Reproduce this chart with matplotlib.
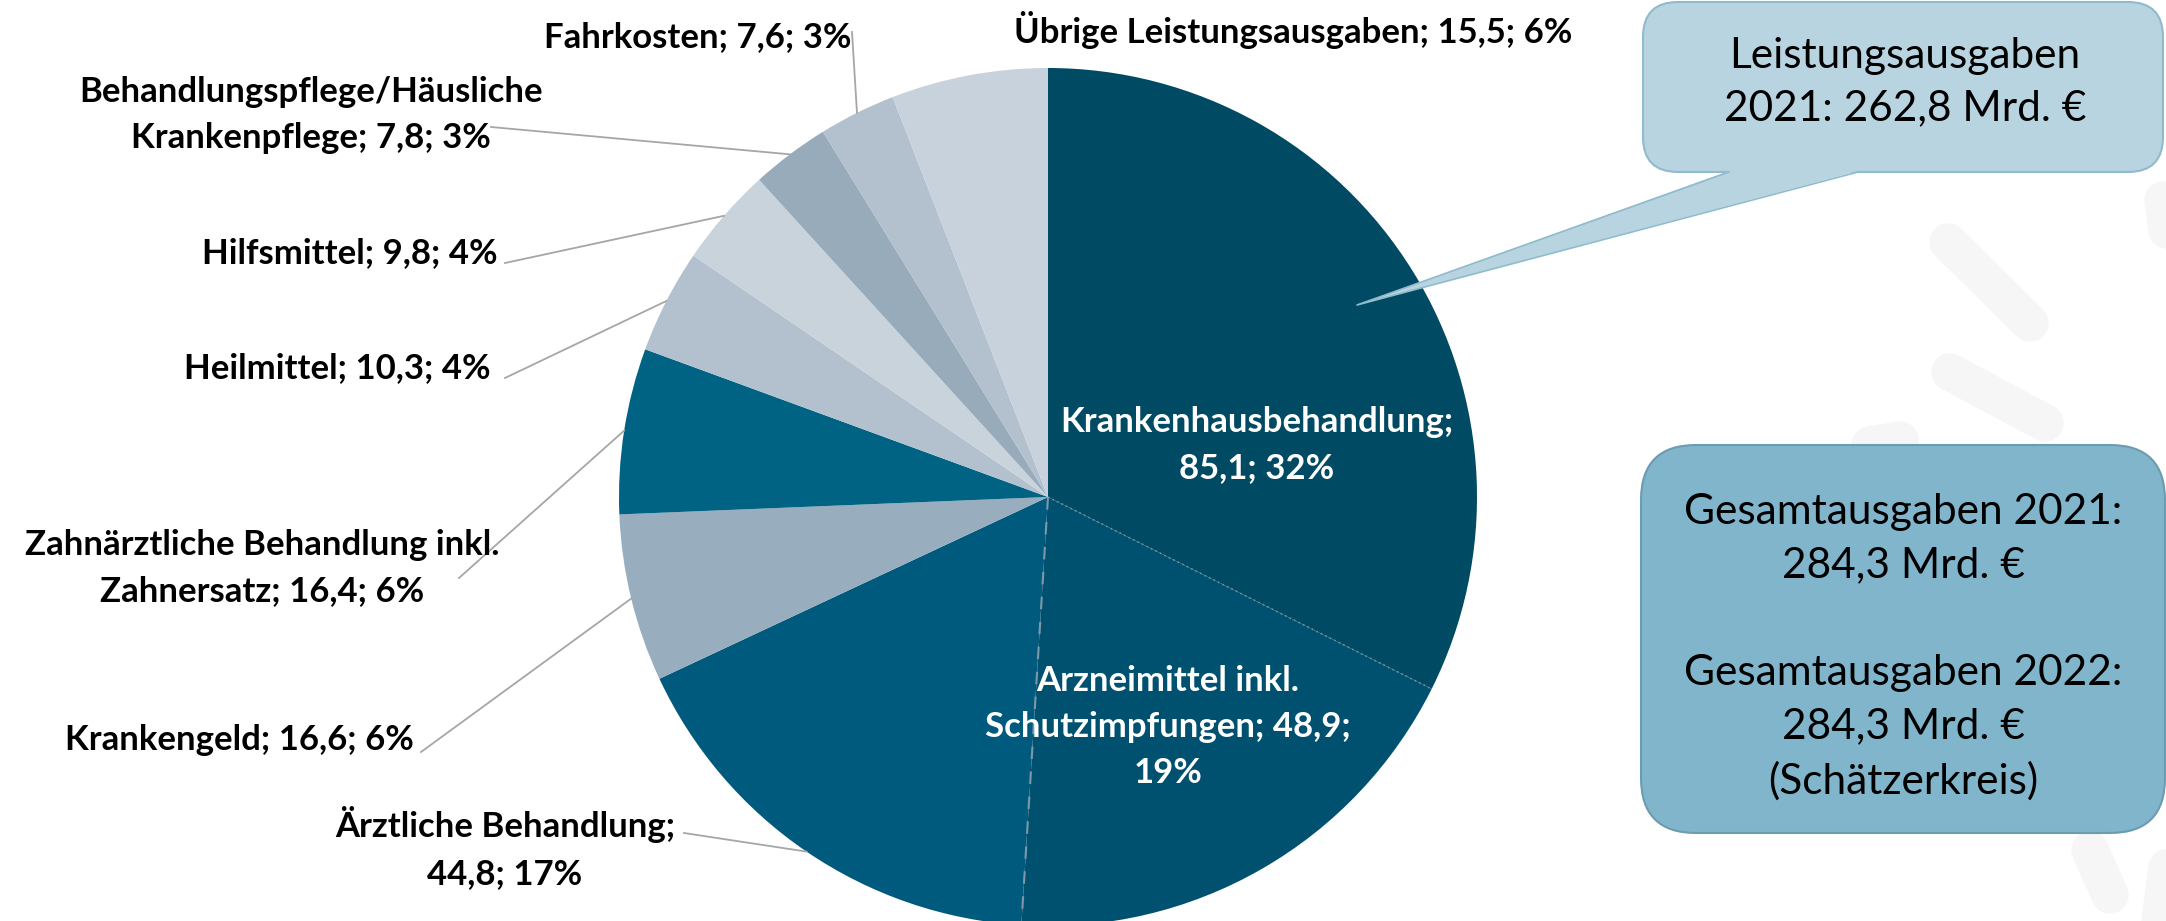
import numpy as np
import matplotlib
matplotlib.use("Agg")
import matplotlib.pyplot as plt
from matplotlib.patches import FancyBboxPatch, Polygon

plt.rcParams['font.family'] = ['Lato', 'DejaVu Sans']

# GKV Leistungsausgaben 2021 in Mrd. Euro (clockwise from 12 o'clock)
categories = ['Krankenhausbehandlung', 'Arzneimittel inkl. Schutzimpfungen',
              'Ärztliche Behandlung', 'Krankengeld',
              'Zahnärztliche Behandlung inkl. Zahnersatz', 'Heilmittel',
              'Hilfsmittel', 'Behandlungspflege/Häusliche Krankenpflege',
              'Fahrkosten', 'Übrige Leistungsausgaben']
values = [85.1, 48.9, 44.8, 16.6, 16.4, 10.3, 9.8, 7.8, 7.6, 15.5]
percents = [32, 19, 17, 6, 6, 4, 4, 3, 3, 6]
slice_colors = ['#004A63', '#00516F', '#005A7D', '#98ADBE', '#006384',
                '#B3C1CE', '#C8D3DC', '#98ABBB', '#B3C0CD', '#C8D2DC']

# text of the data labels (line breaks as in the original)
label_texts = ['Krankenhausbehandlung;\n85,1; 32%',
               'Arzneimittel inkl.\nSchutzimpfungen; 48,9;\n19%',
               'Ärztliche Behandlung;\n44,8; 17%',
               'Krankengeld; 16,6; 6%',
               'Zahnärztliche Behandlung inkl.\nZahnersatz; 16,4; 6%',
               'Heilmittel; 10,3; 4%',
               'Hilfsmittel; 9,8; 4%',
               'Behandlungspflege/Häusliche\nKrankenpflege; 7,8; 3%',
               'Fahrkosten; 7,6; 3%',
               'Übrige Leistungsausgaben; 15,5; 6%']

box1_text = 'Leistungsausgaben\n2021: 262,8 Mrd. €'
box2_text = 'Gesamtausgaben 2021:\n284,3 Mrd. €\n\nGesamtausgaben 2022:\n284,3 Mrd. €\n(Schätzerkreis)'

W, H = 2166, 921


def Y(y):
    # pixel rows are counted from the top
    return H - y


fig = plt.figure(figsize=(W / 100, H / 100), dpi=100)
ax = fig.add_axes([0, 0, 1, 1])

# faint watermark strokes in the background
wm = '#F6F6F6'
for (x0, y0, x1, y1) in [(1948, 242, 2030, 323), (1950, 372, 2045, 423),
                         (2163, 200, 2175, 290), (2090, 850, 2110, 895),
                         (2168, 860, 2160, 921), (1870, 445, 1900, 440)]:
    ax.plot([x0, x1], [Y(y0), Y(y1)], color=wm, lw=27, solid_capstyle='round', zorder=0)

cx, cy, r = 1048, Y(497), 429
wedges, _ = ax.pie(values, colors=slice_colors, startangle=90, counterclock=False,
                   center=(cx, cy), radius=r, frame=True,
                   wedgeprops=dict(linewidth=0))
ax.set_xlim(0, W)
ax.set_ylim(0, H)
ax.set_aspect('equal')
ax.axis('off')


def edge_point(theta, rr=r):
    t = np.deg2rad(theta)
    return cx + rr * np.cos(t), cy + rr * np.sin(t)


# separator lines between the three dark slices
ex, ey = edge_point(wedges[0].theta1)
ax.plot([cx, ex], [cy, ey], color='#6F8E9E', lw=1.2, ls=(0, (1, 2)), zorder=3)
ex, ey = edge_point(wedges[1].theta1)
ax.plot([cx, ex], [cy, ey], color='#7E98A8', lw=1.5, ls=(0, (6, 6)), zorder=3)

label_fs = 25
ls = 1.55

# labels inside the slices
inside_pos = {0: (1257, 445), 1: (1168, 727)}
for i, (lx, ly) in inside_pos.items():
    ax.text(lx, Y(ly), label_texts[i], color='white', fontsize=label_fs,
            fontweight='bold', ha='center', va='center', linespacing=ls, zorder=5)

# outside labels: text position, alignment, and leader line start
outside = {
    2: ((505, 848), 'center', (684, 833)),
    3: ((414, 740), 'right', (421, 752)),
    4: ((262, 568), 'center', (459, 578)),
    5: ((491, 368), 'right', (505, 378)),
    6: ((498, 253), 'right', (505, 263)),
    7: ((311, 115), 'center', (491, 127)),
    8: ((852, 37), 'right', (852, 32)),
    9: ((1293, 30), 'center', None),
}
for i, ((lx, ly), ha, start) in outside.items():
    ax.text(lx, Y(ly), label_texts[i], color='black', fontsize=label_fs,
            fontweight='bold', ha=ha, va='center', multialignment='center',
            linespacing=ls, zorder=5)
    if start is not None:
        w = wedges[i]
        mx, my = edge_point((w.theta1 + w.theta2) / 2)
        ax.plot([start[0], mx], [Y(start[1]), my], color='#A6A6A6', lw=1.3, zorder=4)

# callout box "Leistungsausgaben"
b1_fc, b1_ec = '#B8D4E0', '#8FBBCD'
tip = (1357, 305)
ax.add_patch(Polygon([(1729, Y(171)), (tip[0], Y(tip[1])), (1858, Y(171))],
                     closed=True, fc=b1_fc, ec='none', zorder=6))
ax.plot([1729, tip[0], 1858], [Y(172), Y(tip[1]), Y(172)], color=b1_ec, lw=1.2, zorder=6)
ax.add_patch(FancyBboxPatch((1643 + 35, Y(172) + 35), 520 - 70, 170 - 70,
                            boxstyle='round,pad=35', fc=b1_fc, ec=b1_ec, lw=1.5, zorder=5))
ax.add_patch(Polygon([(1731, Y(170)), (1760, Y(190)), (1856, Y(170))],
                     closed=True, fc=b1_fc, ec='none', zorder=7))
ax.text(1905, Y(82), box1_text, fontsize=30.5, ha='center', va='center',
        linespacing=1.45, color='black', zorder=8)

# box with total expenditure
b2_fc, b2_ec = '#80B5CB', '#6C9CB0'
ax.add_patch(FancyBboxPatch((1641 + 55, Y(833) + 55), 524 - 110, 388 - 110,
                            boxstyle='round,pad=55', fc=b2_fc, ec=b2_ec, lw=1.5, zorder=5))
ax.text(1903, Y(647), box2_text, fontsize=30.5, ha='center', va='center',
        linespacing=1.5, color='black', zorder=8)

fig.savefig('out.png', dpi=100, facecolor='white')
